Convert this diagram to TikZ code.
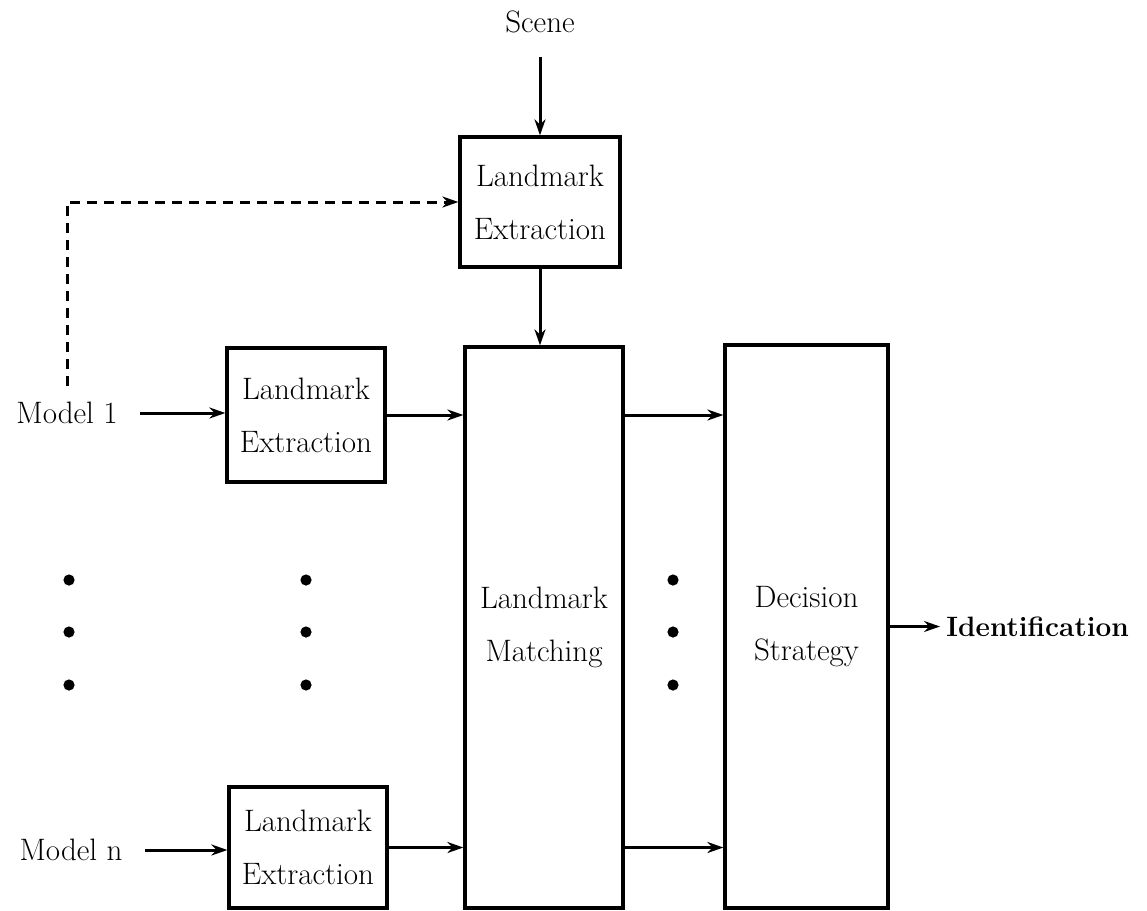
\documentclass[tikz,border=0pt]{standalone}
\usepackage{fontspec}
\usepackage{tikz}
\usetikzlibrary{arrows.meta,positioning}

\begin{document}
\begin{tikzpicture}[x=0.5pt,y=-0.5pt,
  font=\fontsize{15.5}{26.5}\selectfont,
  blk/.style={draw, line width=1.6pt, align=center, inner sep=0pt},
  flow/.style={line width=1.5pt, -{Stealth[length=8pt,width=5.5pt]}},
  lbl/.style={inner sep=3pt}]
\useasboundingbox (0,0) rectangle (1147,911);
% blocks
\node[blk, minimum width=80pt, minimum height=65pt] (top) at (540,202) {Landmark\\Extraction};
\node[blk, minimum width=79pt, minimum height=67pt] (ext1) at (306,415) {Landmark\\Extraction};
\node[blk, minimum width=79pt, minimum height=60.5pt] (extn) at (308,847.5) {Landmark\\Extraction};
\node[blk, minimum width=79pt, minimum height=280.5pt] (match) at (544,627.5) {Landmark\\Matching};
\node[blk, minimum width=81.5pt, minimum height=281.5pt] (decide) at (806.5,626.5) {Decision\\Strategy};
% labels
\node[lbl] (scene) at (540,22) {Scene};
\node[lbl] (model1) at (67,413) {Model 1};
\node[lbl] (modeln) at (71,850) {Model n};
\node[lbl, anchor=west, font=\fontsize{14}{17}\selectfont\bfseries] (ident) at (940,626.5) {Identification};
% connectors
\draw[flow, shorten <=9pt] (scene.south) -- (top.north);
\draw[flow] (top.south) -- (top.south |- match.north);
\draw[flow, shorten <=8pt] (model1.east) -- (model1.east -| ext1.west);
\draw[flow, shorten <=8pt] (modeln.east) -- (modeln.east -| extn.west);
\draw[flow] (ext1.east) -- (ext1.east -| match.west);
\draw[flow] (extn.east) -- (extn.east -| match.west);
\draw[flow] (match.east |- ext1) -- (decide.west |- ext1);
\draw[flow] (match.east |- extn) -- (decide.west |- extn);
\draw[flow] (decide.east) -- (decide.east -| ident.west);
% feedback from model 1
\draw[flow, dashed, dash pattern=on 5pt off 3.5pt, shorten <=5pt] (model1.north) |- (top.west);
% dots
\foreach \x in {69,306,673}
  \foreach \y in {580,632,685}
    \fill (\x,\y) circle (2.8pt);
\end{tikzpicture}
\end{document}
